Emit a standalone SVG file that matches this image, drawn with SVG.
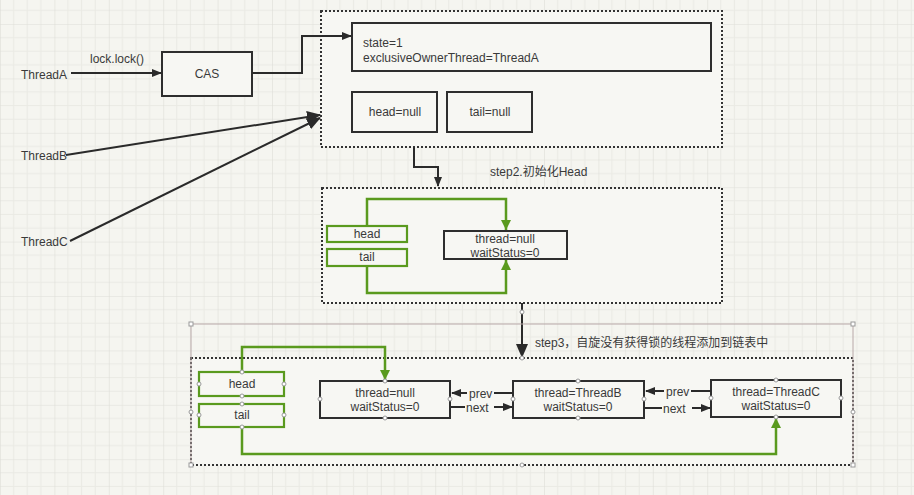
<svg xmlns="http://www.w3.org/2000/svg" width="914" height="495" viewBox="0 0 914 495">
<style>
text{font-family:"Liberation Sans","Noto Sans CJK SC",sans-serif;font-size:12px;fill:#3a3a3a}
.c{text-anchor:middle}
.box{fill:#f7f7f3;stroke:#2e2e2e;stroke-width:2}
.gbox{fill:#f7f7f3;stroke:#5a9a1e;stroke-width:2.2}
.cont{fill:#f7f7f3;stroke:#333;stroke-width:2;stroke-dasharray:2 2}
.ln{fill:none;stroke:#2a2a2a;stroke-width:2}
.gln{fill:none;stroke:#5a9a1e;stroke-width:2.5}
.hd{fill:#fff;stroke:#999;stroke-width:1}
.sel{fill:none;stroke:#b8a8a8;stroke-width:1}
</style>
<defs>
<pattern id="grid" width="54.4" height="54.4" patternUnits="userSpaceOnUse" x="0" y="24">
<rect width="54.4" height="54.4" fill="#f5f5f0"/>
<path d="M13.6 0V54.4M27.2 0V54.4M40.8 0V54.4M0 13.6H54.4M0 27.2H54.4M0 40.8H54.4" stroke="#eaeae4" stroke-width="1" fill="none"/>
<path d="M0 0V54.4M0 0H54.4" stroke="#deded8" stroke-width="1.2" fill="none"/>
</pattern>
<marker id="ab" markerWidth="10" markerHeight="8" refX="9" refY="4" orient="auto" markerUnits="userSpaceOnUse"><path d="M0 0L10 4L0 8Z" fill="#2a2a2a"/></marker>
<marker id="ag" markerWidth="10" markerHeight="10" refX="10" refY="5" orient="auto" markerUnits="userSpaceOnUse"><path d="M0 0L10 5L0 10Z" fill="#5a9a1e"/></marker>
<marker id="ab2" markerWidth="14" markerHeight="12" refX="13" refY="6" orient="auto" markerUnits="userSpaceOnUse"><path d="M0 0L14 6L0 12Z" fill="#2a2a2a"/></marker>
</defs>
<rect width="914" height="495" fill="url(#grid)"/>

<g id="containers">
<rect id="c1" class="cont" x="321" y="11" width="401" height="136"/>
<rect id="c2" class="cont" x="322" y="188" width="400" height="115"/>
<rect id="c3" class="cont" x="191" y="358" width="662" height="107"/>
</g>

<g id="threadA"><text x="21" y="79">ThreadA</text></g>
<g id="threadB"><text x="21" y="160">ThreadB</text></g>
<g id="threadC"><text x="21" y="246">ThreadC</text></g>
<g id="cas"><rect class="box" x="162" y="52" width="90" height="44"/><text class="c" x="207" y="78">CAS</text></g>
<g id="state"><rect class="box" x="352" y="23" width="359" height="48"/><text x="363" y="47">state=1</text><text x="363" y="62">exclusiveOwnerThread=ThreadA</text></g>
<g id="headnull"><rect class="box" x="352" y="92" width="85" height="40"/><text class="c" x="395" y="116">head=null</text></g>
<g id="tailnull"><rect class="box" x="447" y="92" width="85" height="40"/><text class="c" x="490" y="116">tail=null</text></g>

<g id="step2label"><text x="490" y="176">step2.初始化Head</text></g>
<g id="h2"><rect class="gbox" x="327" y="226" width="80" height="16"/><text class="c" x="367" y="238">head</text></g>
<g id="t2"><rect class="gbox" x="327" y="249" width="80" height="17"/><text class="c" x="367" y="261">tail</text></g>
<g id="n0"><rect class="box" x="444" y="231" width="123" height="28"/><text class="c" x="505" y="243">thread=null</text><text class="c" x="505" y="257">waitStatus=0</text></g>

<g id="step3label"><text x="535" y="347">step3，自旋没有获得锁的线程添加到链表中</text></g>
<g id="h3"><rect class="gbox" x="199" y="372" width="85" height="24"/><text class="c" x="242" y="388">head</text></g>
<g id="t3"><rect class="gbox" x="199" y="404" width="85" height="23"/><text class="c" x="242" y="419">tail</text></g>
<g id="n1"><rect class="box" x="320" y="381" width="130" height="37"/><text class="c" x="385" y="397">thread=null</text><text class="c" x="385" y="411">waitStatus=0</text></g>
<g id="n2"><rect class="box" x="513" y="381" width="131" height="37"/><text class="c" x="578" y="397">thread=ThreadB</text><text class="c" x="578" y="411">waitStatus=0</text></g>
<g id="n3"><rect class="box" x="711" y="380" width="130" height="37"/><text class="c" x="776" y="396">thread=ThreadC</text><text class="c" x="776" y="410">waitStatus=0</text></g>

<g id="connectors">
<path class="ln" d="M71 73H161" marker-end="url(#ab)"/>
<text x="90" y="63">lock.lock()</text>
<path class="ln" d="M252 73H302V36H351" marker-end="url(#ab)"/>
<path class="ln" d="M66 155L320 115" marker-end="url(#ab2)"/>
<path class="ln" d="M70 241L320 118" marker-end="url(#ab2)"/>
<path class="ln" d="M414 147V167H438V186" marker-end="url(#ab)"/>
<path class="gln" d="M367 226V199H506V230" marker-end="url(#ag)"/>
<path class="gln" d="M367 266V293H506V260" marker-end="url(#ag)"/>
<path class="ln" d="M522 303V357" marker-end="url(#ab2)"/>
<path class="gln" d="M242 372V347H385V380" marker-end="url(#ag)"/>
<path class="gln" d="M242 427V454H776V418" marker-end="url(#ag)"/>
<path class="ln" d="M513 393H494M467 393H452" marker-end="url(#ab)"/>
<path class="ln" d="M451 407H465M494 407H512" marker-end="url(#ab)"/>
<text x="469" y="398">prev</text>
<text x="466" y="412">next</text>
<path class="ln" d="M711 391H691M664 391H646" marker-end="url(#ab)"/>
<path class="ln" d="M645 408H662M692 408H710" marker-end="url(#ab)"/>
<text x="666" y="396">prev</text>
<text x="663" y="413">next</text>
</g>

<g id="selection">
<path class="sel" d="M191 324H853V465M191 324V465"/>
<rect class="hd" x="189" y="322" width="4" height="4"/>
<rect class="hd" x="851" y="322" width="4" height="4"/>
<rect class="hd" x="189" y="463" width="4" height="4"/>
<rect class="hd" x="851" y="463" width="4" height="4"/>
<circle class="hd" cx="522" cy="312" r="2"/>
<circle class="hd" cx="522" cy="358" r="2"/>
<circle class="hd" cx="522" cy="465" r="2"/>
<circle class="hd" cx="191" cy="412" r="2"/>
<circle class="hd" cx="853" cy="412" r="2"/>
<circle class="hd" cx="242" cy="372" r="2"/><circle class="hd" cx="199" cy="384" r="2"/><circle class="hd" cx="284" cy="384" r="2"/><circle class="hd" cx="242" cy="396" r="2"/>
<circle class="hd" cx="242" cy="404" r="2"/><circle class="hd" cx="199" cy="415" r="2"/><circle class="hd" cx="284" cy="415" r="2"/><circle class="hd" cx="242" cy="427" r="2"/>
<circle class="hd" cx="385" cy="381" r="2"/><circle class="hd" cx="320" cy="399" r="2"/><circle class="hd" cx="450" cy="399" r="2"/><circle class="hd" cx="385" cy="418" r="2"/>
<circle class="hd" cx="578" cy="381" r="2"/><circle class="hd" cx="513" cy="399" r="2"/><circle class="hd" cx="644" cy="399" r="2"/><circle class="hd" cx="578" cy="418" r="2"/>
<circle class="hd" cx="776" cy="380" r="2"/><circle class="hd" cx="711" cy="398" r="2"/><circle class="hd" cx="841" cy="398" r="2"/><circle class="hd" cx="776" cy="417" r="2"/>
</g>
</svg>
